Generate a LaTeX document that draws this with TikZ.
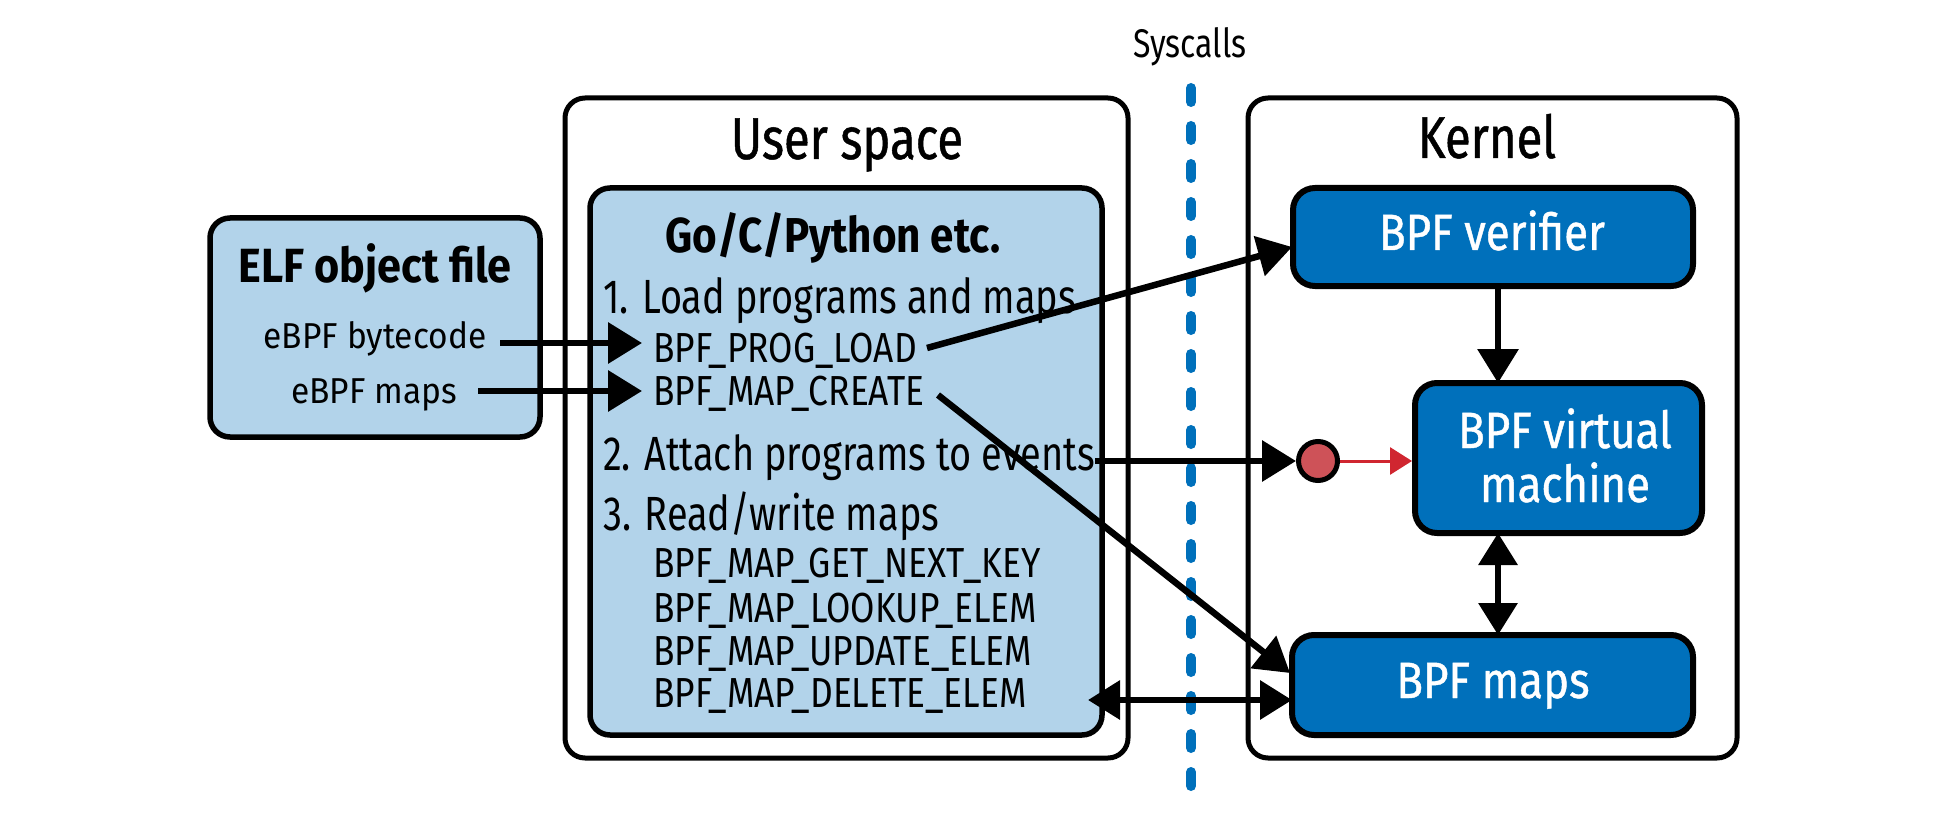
\documentclass[tikz,border=0pt]{standalone}
\usepackage{fontspec}
\setmainfont{Fira Sans}[FakeStretch=0.80]
\newfontfamily\fTitle{Fira Sans}[FakeStretch=0.80, FakeBold=0.8]
\newfontfamily\fElf{Fira Sans}[FakeStretch=0.90]
\newfontfamily\fSmall{Fira Sans}[FakeStretch=0.93]
\newfontfamily\fLang{Fira Sans}[FakeStretch=0.86]
\newfontfamily\fStep{Fira Sans}[FakeStretch=0.79]
\newfontfamily\fCall{Fira Sans}[FakeStretch=0.84]
\newfontfamily\fWhite{Fira Sans}[FakeStretch=0.86, FakeBold=0.8]
\usetikzlibrary{arrows.meta}
\definecolor{lightblue}{RGB}{178,211,234}
\definecolor{darkblue}{RGB}{0,112,187}
\definecolor{dotred}{RGB}{206,82,88}
\definecolor{arrred}{RGB}{208,38,48}
\tikzset{
  outerbox/.style={draw, line width=5pt, rounded corners=20pt, inner sep=0pt},
  lbox/.style={draw, fill=lightblue, line width=5.5pt, rounded corners=20pt, inner sep=0pt},
  dbox/.style={draw, fill=darkblue, line width=6pt, rounded corners=22pt, inner sep=0pt},
  txt/.style={inner sep=0pt, text=black},
  arr/.style={line width=6.5pt, -{Triangle[length=34pt,width=40pt]}},
  darr/.style={line width=6.5pt, {Triangle[length=32pt,width=38pt]}-{Triangle[length=32pt,width=38pt]}},
  redarr/.style={line width=3pt, draw=arrred, -{Triangle[length=22pt,width=27pt]}, arrred},
  fbig/.style={font=\fTitle\fontsize{59}{64}\selectfont},
  felf/.style={font=\fElf\bfseries\fontsize{48}{54}\selectfont},
  flang/.style={font=\fLang\bfseries\fontsize{49}{54}\selectfont},
  fstep/.style={font=\fStep\fontsize{48}{52}\selectfont},
  fcall/.style={font=\fCall\fontsize{42}{46}\selectfont},
  fsmall/.style={font=\fSmall\fontsize{36}{40}\selectfont},
  fwhite/.style={font=\fWhite\fontsize{51}{54}\selectfont, text=white},
}
\begin{document}
\begin{tikzpicture}[x=1pt,y=-1pt]
\useasboundingbox (0,0) rectangle (1942,818);

% syscall separator
\node[txt, anchor=base, font=\fontsize{40}{44}\selectfont] (sys) at (1190,58) {Syscalls};
\coordinate (dtop) at (1191,88);
\coordinate (dbot) at (1191,788);
\draw[darkblue, line width=10pt, line cap=round, dash pattern=on 14pt off 24pt] (dtop) -- (dbot);

% outer boxes
\node[outerbox, minimum width=563, minimum height=660] (user) at (846.5,428) {};
\node[outerbox, minimum width=489, minimum height=660] (kern) at (1492.5,428) {};
\node[txt, anchor=base, fbig] (usert) at (847,159) {User space};
\node[txt, anchor=base, fbig] (kernt) at (1487,158) {Kernel};

% ELF box
\node[lbox, minimum width=330, minimum height=219] (elf) at (375,327.5) {};
\node[txt, anchor=base, felf] (elft) at (375,283) {ELF object file};
\node[txt, anchor=base, fsmall] (bc) at (375,348) {eBPF bytecode};
\node[txt, anchor=base, fsmall] (em) at (374,403) {eBPF maps};

% inner user box
\node[lbox, minimum width=512, minimum height=547] (inner) at (846,461.5) {};
\node[txt, anchor=base, flang] (lang) at (833,252) {Go/C/Python etc.};
\node[txt, anchor=base west, fstep] (s1) at (603,313) {1. Load programs and maps};
\node[txt, anchor=base west, fcall] (pl) at (653,362) {BPF\_PROG\_LOAD};
\node[txt, anchor=base west, fcall] (mc) at (653,405) {BPF\_MAP\_CREATE};
\node[txt, anchor=base west, fstep] (s2) at (603,470) {2. Attach programs to events};
\node[txt, anchor=base west, fstep] (s3) at (603,530) {3. Read/write maps};
\node[txt, anchor=base west, fcall] (gk) at (653,577) {BPF\_MAP\_GET\_NEXT\_KEY};
\node[txt, anchor=base west, fcall] (lk) at (653,622) {BPF\_MAP\_LOOKUP\_ELEM};
\node[txt, anchor=base west, fcall] (up) at (653,665) {BPF\_MAP\_UPDATE\_ELEM};
\node[txt, anchor=base west, fcall] (de) at (653,707) {BPF\_MAP\_DELETE\_ELEM};

% kernel boxes
\node[dbox, minimum width=400, minimum height=98] (ver) at (1493,237) {};
\node[txt, anchor=base, fwhite] (vert) at (1492,250) {BPF verifier};
\node[dbox, minimum width=287, minimum height=150] (vm) at (1558.5,458) {};
\node[txt, anchor=base, fwhite] (vmt1) at (1565,448) {BPF virtual};
\node[txt, anchor=base, fwhite] (vmt2) at (1565,502) {machine};
\node[dbox, minimum width=401, minimum height=100] (maps) at (1492.5,685) {};
\node[txt, anchor=base, fwhite] (mapst) at (1493,698) {BPF maps};
\node[circle, draw, line width=5pt, fill=dotred, minimum size=39pt, inner sep=0pt] (dot) at (1318,461) {};

% connector end points
\coordinate (bcs) at (500,343);
\coordinate (bce) at (642,343);
\coordinate (ems) at (478,391);
\coordinate (eme) at (642,391);
\coordinate (pls) at (927,348);
\coordinate (vere) at (1292,247);
\coordinate (mcs) at (938,395);
\coordinate (mapse) at (1290,673);
\coordinate (ats) at (1095,461);
\coordinate (vtop) at (1498,286);
\coordinate (vbot) at (1498,383);
\coordinate (mtop) at (1498,533);
\coordinate (mbot) at (1498,635);
\coordinate (rwe) at (1088,700);
\coordinate (mapsw) at (1292,700);

\draw[arr] (bcs) -- (bce);
\draw[arr] (ems) -- (eme);
\draw[arr] (pls) -- (vere);
\draw[arr] (mcs) -- (mapse);
\draw[arr] (ats) -- (dot.west);
\draw[redarr] (dot.east) -- (vm.west |- dot.east);
\draw[arr] (vtop) -- (vbot);
\draw[darr] (mtop) -- (mbot);
\draw[darr] (rwe) -- (mapsw);
\end{tikzpicture}
\end{document}
